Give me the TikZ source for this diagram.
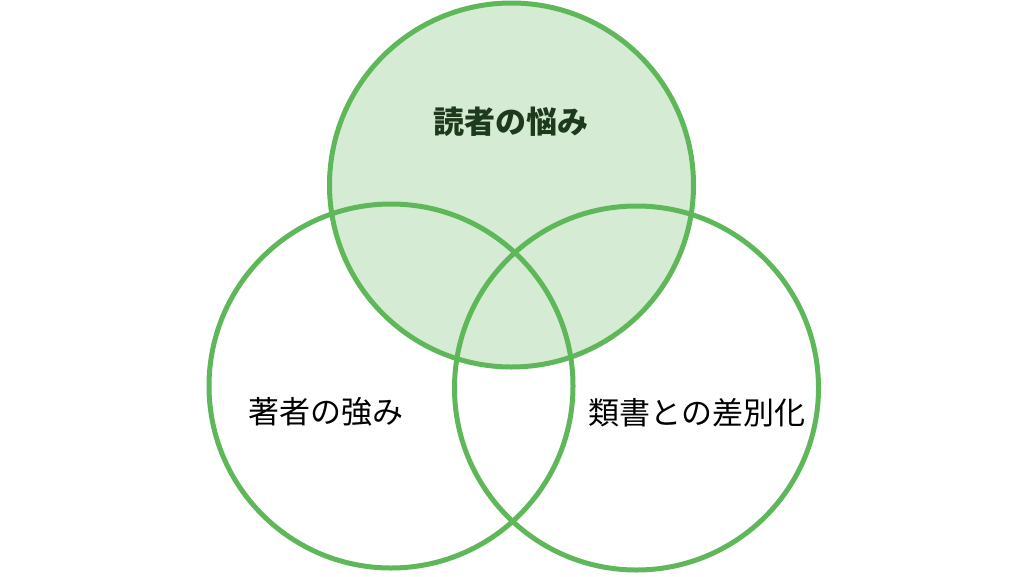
\documentclass[tikz,border=0pt]{standalone}
\usepackage{fontspec}
\newfontfamily\jpfont{Noto Sans CJK JP}
\definecolor{vgreen}{RGB}{94,184,90}
\definecolor{vfill}{RGB}{213,235,211}
\definecolor{vtext}{RGB}{30,58,28}
\tikzset{
  venn/.style={circle, draw=vgreen, line width=5pt, minimum size=364pt, inner sep=0pt},
  label/.style={font=\jpfont\fontsize{31}{36}\selectfont}
}
\begin{document}
\begin{tikzpicture}[x=1pt,y=-1pt]
\useasboundingbox (0,0) rectangle (1024,576);
\node[venn, fill=vfill] (reader) at (511.5,185) {};
\node[venn] (author) at (391,386) {};
\node[venn] (rival) at (636.5,388) {};
\node[label, text=vtext, font=\jpfont\bfseries\fontsize{31}{36}\selectfont] (readerlbl) at (511,122) {読者の悩み};
\node[label, text=black] (authorlbl) at (326,412) {著者の強み};
\node[label, text=black] (rivallbl) at (697,413) {類書との差別化};
\end{tikzpicture}
\end{document}
